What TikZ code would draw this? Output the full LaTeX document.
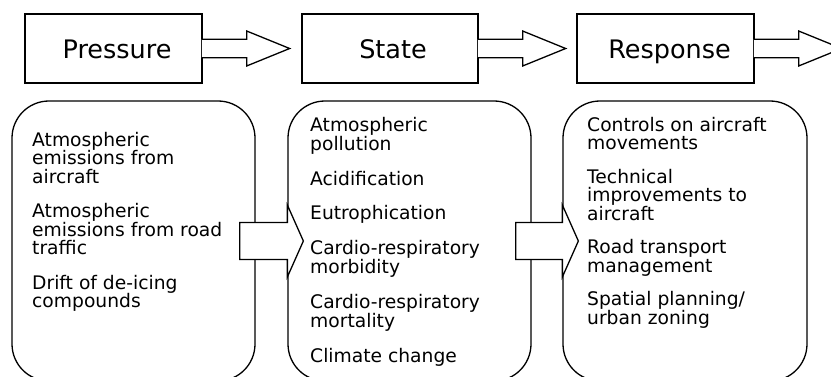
\documentclass[tikz,border=0pt]{standalone}
\usepackage{fontspec}
\setmainfont{DejaVu Sans}
\newcommand\tightlines{\lineskiplimit=-30pt\relax\lineskip=0pt\relax}
\begin{document}
\begin{tikzpicture}[x=1pt,y=-1pt,
  outline/.style={line width=1.3pt, line join=miter},
  hdr/.style={draw, outline, minimum width=177pt, minimum height=69pt,
    inner sep=0pt, text height=21pt, text depth=0pt,
    font=\fontsize{25.5}{30}\selectfont},
  group/.style={draw, outline, rounded corners=37pt, minimum width=243pt,
    minimum height=280pt, inner sep=0pt},
  itemtext/.style={anchor=north west, inner sep=0pt, align=left,
    font=\fontsize{18.7}{19.5}\selectfont\tightlines},
  hdrarrow/.pic={
    \path[fill=white] (-0.8,-9.25) -- (44,-9.25) -- (44,-17.5) -- (87,0)
      -- (44,17.5) -- (44,9.25) -- (-0.8,9.25) -- cycle;
    \draw[outline] (-0.6,-9.25) -- (44,-9.25) -- (44,-17.5) -- (87,0)
      -- (44,17.5) -- (44,9.25) -- (-0.6,9.25);
  }
]
\useasboundingbox (0,0) rectangle (831,377);
\clip (0,0) rectangle (831,377);

% headings
\node[hdr] (P) at (113.5,48.5) {\hspace*{7pt}Pressure};
\node[hdr, minimum width=176pt] (S) at (390,48.5) {\hspace*{6pt}State};
\node[hdr] (R) at (665.5,48.5) {\hspace*{8pt}Response};

% rounded groups
\node[group] (B1) at (133.5,241) {};
\node[group] (B2) at (409.5,241) {};
\node[group, minimum width=244pt] (B3) at (685,241) {};

% block arrows between headings
\pic at (P.east) {hdrarrow};
\pic at (S.east) {hdrarrow};
\pic at (R.east) {hdrarrow};

% block arrows between groups
\draw[outline, fill=white]
  ([xshift=-16pt,yshift=18.5pt]B1.east) -- ([yshift=18.5pt]B2.west)
  -- ([yshift=36pt]B2.west) -- ([xshift=16pt]B2.west)
  -- ([yshift=-36pt]B2.west) -- ([yshift=-18.5pt]B2.west)
  -- ([xshift=-16pt,yshift=-18.5pt]B1.east) -- cycle;
\draw[outline, fill=white]
  ([xshift=-16pt,yshift=18.5pt]B2.east) -- ([yshift=18.5pt]B3.west)
  -- ([yshift=36pt]B3.west) -- ([xshift=16pt]B3.west)
  -- ([yshift=-36pt]B3.west) -- ([yshift=-18.5pt]B3.west)
  -- ([xshift=-16pt,yshift=-18.5pt]B2.east) -- cycle;

% group contents
\node[itemtext, font=\fontsize{18.7}{18.5}\selectfont\tightlines] (T1) at (32,131.8)
  {Atmospheric\\emissions from\\aircraft\\[16pt]%
Atmospheric\\emissions from road\\traffic\\[16pt]Drift of de-icing\\compounds};
\node[itemtext] (T2) at (310,116.8) {Atmospheric\\pollution\\[15pt]Acidification\\[15pt]%
Eutrophication\\[15pt]Cardio-respiratory\\morbidity\\[15pt]Cardio-respiratory\\mortality\\[15pt]%
Climate change};
\node[itemtext, font=\fontsize{18.7}{18.5}\selectfont\tightlines] (T3) at (587,116.8)
  {Controls on aircraft\\movements\\[15pt]Technical\\%
improvements to\\aircraft\\[15pt]Road transport\\management\\[15pt]Spatial planning/\\urban zoning};
\end{tikzpicture}
\end{document}
